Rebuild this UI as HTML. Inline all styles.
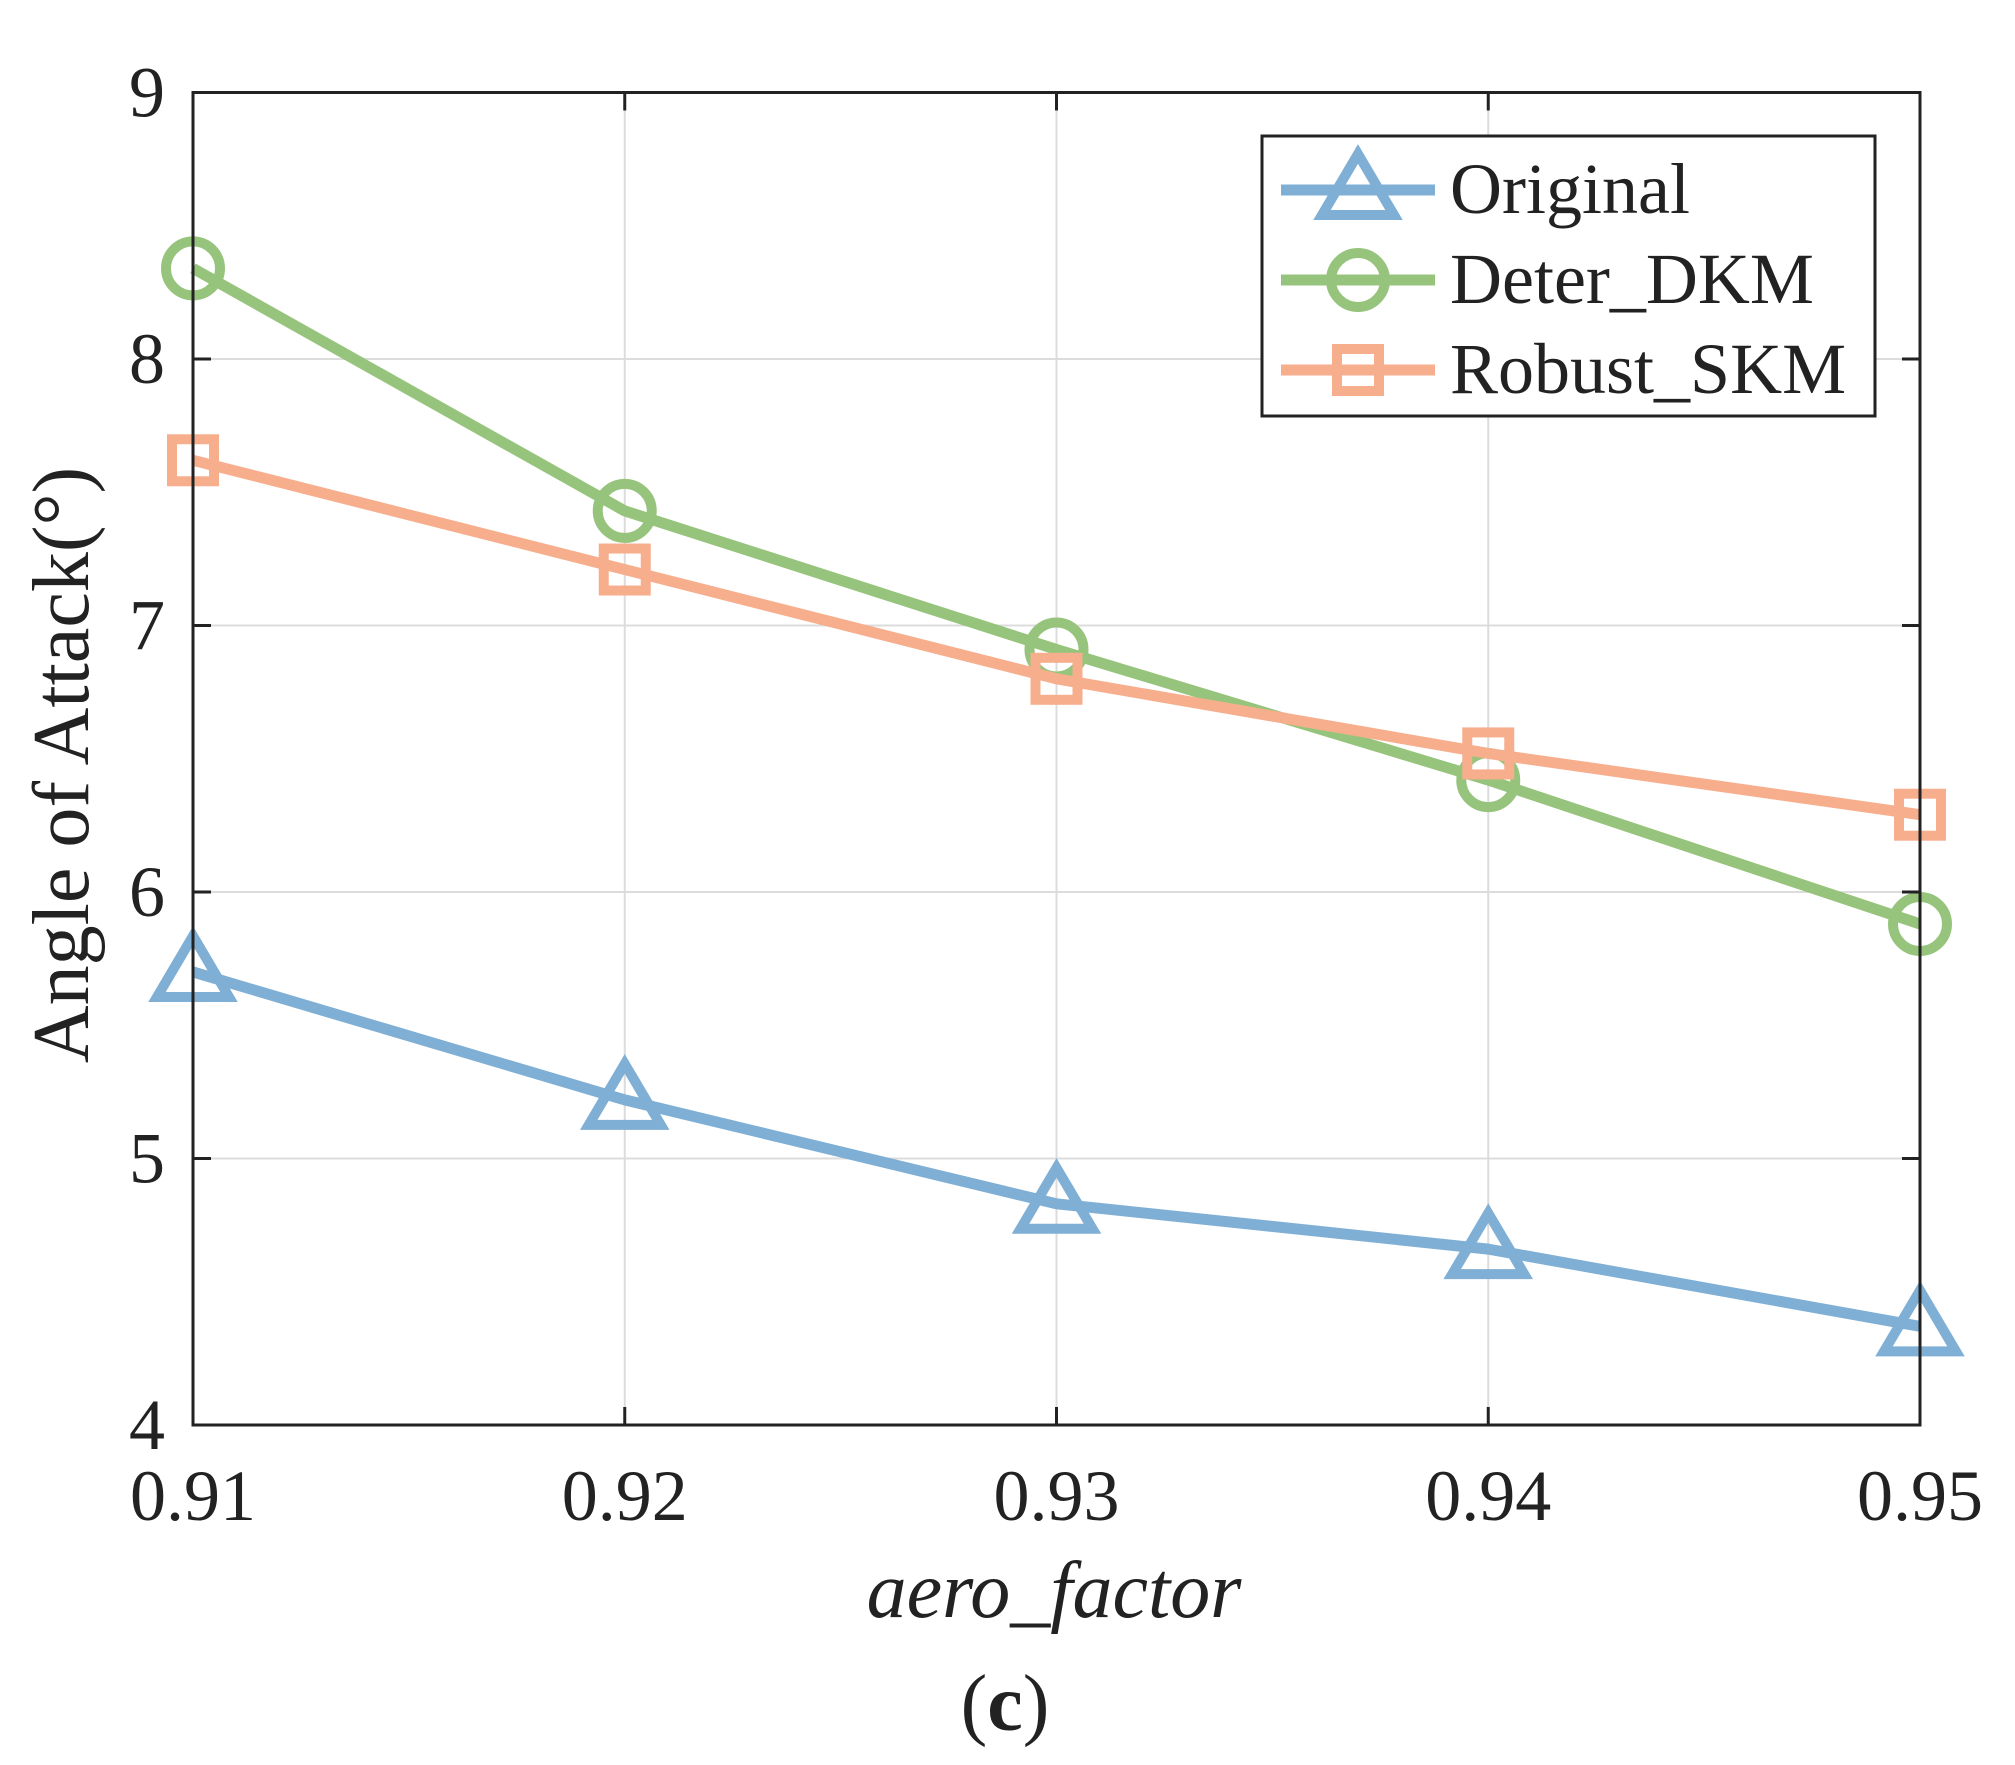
<!DOCTYPE html>
<html><head><meta charset="utf-8"><style>
html,body{margin:0;padding:0;background:#fff;}
svg{display:block;font-family:"Liberation Serif",serif;}
</style></head><body>
<svg id="chart" width="2015" height="1765" viewBox="0 0 2015 1765">
<g id="grid"></g>
<g id="series"></g>
<rect x="193" y="92.5" width="1727" height="1332.5" fill="none" stroke="#222" stroke-width="3"/>
<g id="ticks"></g>
<text x="1054" y="1617" font-size="80" font-style="italic" text-anchor="middle" fill="#222">aero_factor</text>
<text transform="translate(88,765) rotate(-90)" font-size="80" text-anchor="middle" fill="#222">Angle of Attack(°)</text>
<text x="1005" y="1730" font-size="80" text-anchor="middle" fill="#222">(<tspan font-weight="bold">c</tspan>)</text>
<g id="legend">
<rect x="1262" y="136" width="613" height="280" fill="#fff" stroke="#222" stroke-width="3"/>
</g>
</svg>
<script>
const categories = [0.91, 0.92, 0.93, 0.94, 0.95];
const originalValues = [5.70, 5.22, 4.83, 4.66, 4.37];
const deterValues = [8.34, 7.43, 6.91, 6.42, 5.88];
const robustValues = [7.62, 7.21, 6.80, 6.52, 6.29];
const xTickLabels = ["0.91","0.92","0.93","0.94","0.95"];
const yTickValues = [4,5,6,7,8,9];

const NS="http://www.w3.org/2000/svg";
const L=193,R=1920,T=92.5,B=1425;
const xs=v=>L+(v-0.91)/(0.95-0.91)*(R-L);
const ys=v=>B-(v-4)/(9-4)*(B-T);
function mk(tag,attrs,parent){const e=document.createElementNS(NS,tag);for(const k in attrs)e.setAttribute(k,attrs[k]);parent.appendChild(e);return e;}
const grid=document.getElementById('grid'),ticks=document.getElementById('ticks'),series=document.getElementById('series'),legend=document.getElementById('legend');
categories.forEach((c,i)=>{
  const x=xs(c);
  const g=mk('line',{x1:x,x2:x,y1:T,y2:B,stroke:'#dcdcdc','stroke-width':2},grid);
  
  
  const t1=mk('line',{x1:x,x2:x,y1:B,y2:B-18,stroke:'#222','stroke-width':3},ticks);
  
  
  const t2=mk('line',{x1:x,x2:x,y1:T,y2:T+18,stroke:'#222','stroke-width':3},ticks);
  
  
  const lb=mk('text',{x:x,y:1520,'font-size':72,'text-anchor':'middle',fill:'#222'},ticks);
  lb.textContent=xTickLabels[i];
  
  
});
yTickValues.forEach(v=>{
  const y=ys(v);
  const g=mk('line',{x1:L,x2:R,y1:y,y2:y,stroke:'#dcdcdc','stroke-width':2},grid);
  
  
  const t1=mk('line',{x1:L,x2:L+18,y1:y,y2:y,stroke:'#222','stroke-width':3},ticks);
  
  
  const t2=mk('line',{x1:R,x2:R-18,y1:y,y2:y,stroke:'#222','stroke-width':3},ticks);
  
  
  const lb=mk('text',{x:165,y:y+24,'font-size':72,'text-anchor':'end',fill:'#222'},ticks);
  lb.textContent=String(v);
  
  
});
function marker(type,x,y,col,parent){
  let e;
  if(type==='tri') e=mk('polygon',{points:`${x},${y-36} ${x+36},${y+25} ${x-36},${y+25}`,fill:'none',stroke:col,'stroke-width':10},parent);
  else if(type==='circ') e=mk('circle',{cx:x,cy:y,r:27,fill:'none',stroke:col,'stroke-width':10},parent);
  else e=mk('rect',{x:x-21,y:y-21,width:42,height:42,fill:'none',stroke:col,'stroke-width':10},parent);
  return e;
}
const defs=[
  {name:'Original',vals:originalValues,col:'#7fafd5',m:'tri',key:'original'},
  {name:'Deter_DKM',vals:deterValues,col:'#97c47c',m:'circ',key:'deter-dkm'},
  {name:'Robust_SKM',vals:robustValues,col:'#f7ae8d',m:'sq',key:'robust-skm'}
];
defs.forEach((d,si)=>{
  const g=mk('g',{},series);
  
  
  const pts=d.vals.map((v,i)=>xs(categories[i])+','+ys(v)).join(' ');
  const pl=mk('polyline',{points:pts,fill:'none',stroke:d.col,'stroke-width':11,'stroke-linejoin':'round'},g);
  
  
  d.vals.forEach((v,i)=>{
    const m=marker(d.m,xs(categories[i]),ys(v),d.col,g);
    
    
  });
  const ly=190+si*90;
  const lg=mk('g',{},legend);
  
  
  mk('line',{x1:1281,x2:1435,y1:ly,y2:ly,stroke:d.col,'stroke-width':11},lg);
  marker(d.m,1358,ly,d.col,lg);
  const t=mk('text',{x:1450,y:ly+23,'font-size':72,fill:'#222'},lg);
  t.textContent=d.name;
});
</script>
</body></html>
